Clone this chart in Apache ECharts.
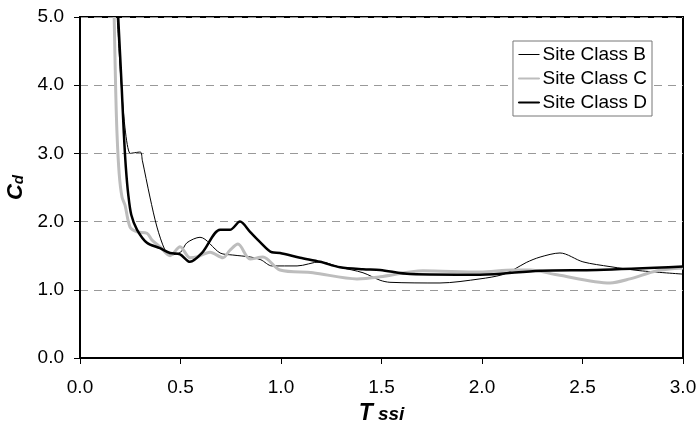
<!DOCTYPE html>
<html>
<head>
<meta charset="utf-8">
<script src="https://cdn.jsdelivr.net/npm/echarts@6/dist/echarts.min.js"></script>
<style>
  html, body { margin: 0; padding: 0; background: #fff; }
  #main { width: 699px; height: 421px; }
</style>
</head>
<body>
<div id="main"></div>
<script>
// data: [Tssi, Cd]
const siteB = [
  [0.185, 5.0], [0.25, 3.0], [0.30, 3.02], [0.31, 2.9], [0.348, 2.36], [0.383, 1.92],
  [0.423, 1.58], [0.448, 1.51], [0.50, 1.55], [0.532, 1.69], [0.597, 1.77], [0.697, 1.54],
  [0.76, 1.51], [0.85, 1.48], [0.90, 1.44], [0.955, 1.35], [1.08, 1.35], [1.194, 1.41],
  [1.294, 1.33], [1.408, 1.25], [1.493, 1.14], [1.542, 1.11], [1.791, 1.10], [1.99, 1.16],
  [2.10, 1.22], [2.16, 1.30], [2.22, 1.40], [2.289, 1.48], [2.388, 1.54], [2.502, 1.41],
  [2.637, 1.34], [2.786, 1.28], [3.0, 1.23]
]
const siteC = [
  [0.17, 5.0], [0.177, 4.0], [0.184, 3.3], [0.195, 2.7], [0.209, 2.36], [0.224, 2.24],
  [0.249, 1.92], [0.284, 1.85], [0.333, 1.83], [0.358, 1.73], [0.398, 1.63], [0.448, 1.50],
  [0.498, 1.63], [0.547, 1.47], [0.58, 1.48], [0.647, 1.55], [0.711, 1.47], [0.746, 1.58],
  [0.786, 1.67], [0.846, 1.45], [0.91, 1.48], [0.995, 1.29], [1.159, 1.25], [1.378, 1.16],
  [1.493, 1.19], [1.706, 1.28], [1.99, 1.26], [2.154, 1.29], [2.239, 1.29], [2.373, 1.22],
  [2.637, 1.10], [2.736, 1.16], [2.871, 1.28], [3.0, 1.32]
]
const siteD = [
  [0.19, 5.0], [0.207, 4.0], [0.218, 3.3], [0.228, 2.8], [0.24, 2.4], [0.255, 2.1],
  [0.284, 1.88], [0.333, 1.69], [0.398, 1.61], [0.448, 1.54], [0.498, 1.52], [0.547, 1.41],
  [0.607, 1.54], [0.697, 1.88], [0.746, 1.88], [0.796, 2.0], [0.846, 1.85], [0.896, 1.70],
  [0.955, 1.55], [0.995, 1.54], [1.095, 1.47], [1.194, 1.41], [1.294, 1.33], [1.408, 1.30],
  [1.493, 1.29], [1.642, 1.23], [1.99, 1.22], [2.289, 1.28], [2.572, 1.29], [3.0, 1.34]
]
const seriesNames = ['Site Class B', 'Site Class C', 'Site Class D']
const seriesColors = ['#000', '#bdbdbd', '#000']
const seriesWidths = [1, 3, 2.5]

const font = 'Liberation Sans, Arial, sans-serif'
const chart = echarts.init(document.getElementById('main'))

const mkLine = (i, data) => ({
  name: seriesNames[i],
  type: 'line',
  data: data,
  smooth: 0.3,
  symbol: 'none',
  clip: true,
  lineStyle: { color: seriesColors[i], width: seriesWidths[i] },
  itemStyle: { color: seriesColors[i] }
})

chart.setOption({
  animation: false,
  backgroundColor: '#fff',
  grid: {
    left: 80, top: 17, right: 16, bottom: 63,
    containLabel: false,
    outerBoundsMode: 'none',
    show: true, borderColor: '#000', borderWidth: 2
  },
  legend: {
    orient: 'vertical',
    right: 47,
    top: 41,
    backgroundColor: '#fff',
    borderColor: '#777',
    borderWidth: 1,
    padding: [4, 5, 4, 5],
    itemGap: 5,
    itemWidth: 21,
    itemHeight: 1,
    icon: 'rect',
    textStyle: { fontFamily: font, fontSize: 19, color: '#000', padding: [0, 0, 0, -2] },
    data: seriesNames.map((n, i) => ({
      name: n,
      itemStyle: {
        color: seriesColors[i],
        borderColor: seriesColors[i],
        borderWidth: i === 0 ? 0 : 1
      }
    }))
  },
  xAxis: {
    type: 'value',
    min: 0, max: 3, interval: 0.5,
    name: '{t|T}{s| ssi}',
    nameLocation: 'middle',
    nameGap: 40,
    nameTextStyle: {
      rich: {
        t: { fontFamily: font, fontSize: 23, fontWeight: 'bold', fontStyle: 'italic', color: '#000' },
        s: { fontFamily: font, fontSize: 19, fontWeight: 'bold', fontStyle: 'italic', color: '#000', padding: [3, 0, 0, 0] }
      }
    },
    axisLine: { lineStyle: { color: '#000', width: 2 } },
    axisTick: { show: true, length: 6, lineStyle: { color: '#000' } },
    axisLabel: { margin: 20, fontFamily: font, fontSize: 19, color: '#000', formatter: v => v.toFixed(1) },
    splitLine: { show: false }
  },
  yAxis: {
    type: 'value',
    min: 0, max: 5, interval: 1,
    name: '{c|C}{d|d}',
    nameLocation: 'middle',
    nameGap: 50,
    nameRotate: 90,
    nameTextStyle: {
      rich: {
        c: { fontFamily: font, fontSize: 22, fontWeight: 'bold', fontStyle: 'italic', color: '#000' },
        d: { fontFamily: font, fontSize: 15, fontWeight: 'bold', fontStyle: 'italic', color: '#000', padding: [7, 0, 0, 0] }
      }
    },
    axisLine: { show: true, lineStyle: { color: '#000', width: 2 } },
    axisTick: { show: true, length: 6, lineStyle: { color: '#000' } },
    axisLabel: { margin: 16, fontFamily: font, fontSize: 19, color: '#000', formatter: v => v.toFixed(1) },
    splitLine: { show: true, lineStyle: { color: '#999', type: [8, 6], width: 1 } }
  },
  series: [
    mkLine(0, siteB),
    mkLine(1, siteC),
    mkLine(2, siteD)
  ]
})
</script>
</body>
</html>
